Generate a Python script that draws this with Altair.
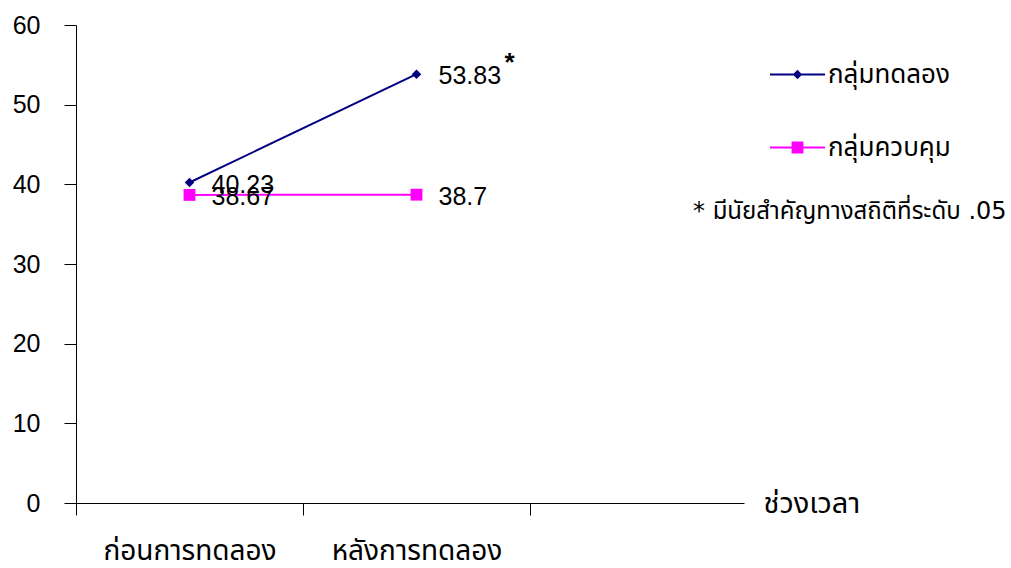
import altair as alt
import pandas as pd

# ---- data ----
periods = ["ก่อนการทดลอง", "หลังการทดลอง"]
groups = ["กลุ่มทดลอง", "กลุ่มควบคุม"]
exp_values = [40.23, 53.83]
ctrl_values = [38.67, 38.7]
exp_labels = ["40.23", "53.83"]
ctrl_labels = ["38.67", "38.7"]
exp_sig = ["", "*"]
ctrl_sig = ["", ""]
y_ticks = [0, 10, 20, 30, 40, 50, 60]
x_title = "ช่วงเวลา"
note = "* มีนัยสำคัญทางสถิติที่ระดับ .05"

colors = ["#000080", "#FF00FF"]
FONT = "'DejaVu Sans', 'Noto Sans Thai', sans-serif"
NUM_FONT = "'Liberation Sans', Arial, sans-serif"

rows = []
for i, p in enumerate(periods):
    rows.append({"period": p, "pos": i + 0.5, "group": groups[0], "value": exp_values[i],
                 "label": exp_labels[i], "sig": exp_sig[i]})
for i, p in enumerate(periods):
    rows.append({"period": p, "pos": i + 0.5, "group": groups[1], "value": ctrl_values[i],
                 "label": ctrl_labels[i], "sig": ctrl_sig[i]})
df = pd.DataFrame(rows)

W, H = 668, 478
slot = 227.0
x_scale = alt.Scale(domain=[0, W / slot], nice=False, zero=False)
y_scale = alt.Scale(domain=[0, 60], nice=False)
color_scale = alt.Scale(domain=groups, range=colors)

label_expr = "[" + ",".join("'" + p + "'" for p in periods) + ",''][datum.value]"

x_enc = alt.X("pos:Q", scale=x_scale,
              axis=alt.Axis(values=[0, 1, 2], labelExpr=label_expr, labelOffset=slot / 2,
                            tickSize=12, grid=False, labelFontSize=28, labelPadding=22,
                            labelFont=FONT, labelColor="#000", domainColor="#000", tickColor="#000",
                            title=x_title, titleFont=FONT, titleFontSize=29, titleFontWeight="normal",
                            titleAnchor="start", titleAlign="left", titleBaseline="middle",
                            titleX=W + 19, titleY=0, labelFlush=False))
y_enc = alt.Y("value:Q", scale=y_scale,
              axis=alt.Axis(values=y_ticks, tickSize=12, grid=False, labelFontSize=25,
                            labelPadding=24, labelFont=NUM_FONT, labelColor="#000",
                            domainColor="#000", tickColor="#000", title=None))

base = alt.Chart(df)

lines = base.mark_line(strokeWidth=2).encode(
    x=x_enc, y=y_enc,
    color=alt.Color("group:N", scale=color_scale, legend=None),
    detail="group:N",
)

points = base.mark_point(filled=True, opacity=1).encode(
    x=x_enc, y=y_enc,
    color=alt.Color("group:N", scale=color_scale, legend=None),
    shape=alt.Shape("group:N", scale=alt.Scale(domain=groups, range=["diamond", "square"]), legend=None),
    size=alt.Size("group:N", scale=alt.Scale(domain=groups, range=[90, 140]), legend=None),
)

legend_paths = [
    "M-1,-0.036H1V0.036H-1Z M-0.17,0L0,-0.17L0.17,0L0,0.17Z",
    "M-1,-0.036H1V0.036H-1Z M-0.215,-0.215H0.215V0.215H-0.215Z",
]
legend_spec = alt.Legend(title=None, orient="none", legendX=694, legendY=22, padding=0,
                         symbolSize=3025, symbolStrokeWidth=0, labelFont=FONT, labelFontSize=26,
                         labelColor="#000", labelOffset=3, rowPadding=32, labelLimit=300)

legend_carrier = base.mark_point(filled=True, opacity=1).transform_filter("datum.value < 0").encode(
    x=x_enc, y=y_enc,
    color=alt.Color("group:N", scale=color_scale, legend=legend_spec),
    shape=alt.Shape("group:N", scale=alt.Scale(domain=groups, range=legend_paths), legend=legend_spec),
)

labels = base.mark_text(align="left", baseline="middle", dx=22, dy=2, fontSize=25,
                        font=NUM_FONT, color="#000").encode(x=x_enc, y=y_enc, text="label:N")

sig = base.mark_text(align="center", baseline="middle", dx=93, dy=-11, fontSize=26,
                     fontWeight="bold", font=NUM_FONT, color="#000").encode(x=x_enc, y=y_enc, text="sig:N")

note_df = pd.DataFrame({"note": [note]})
note_text = alt.Chart(note_df).mark_text(align="left", baseline="middle", fontSize=24,
                                         font=FONT, color="#000").encode(
    x=alt.value(617), y=alt.value(187), text="note:N")

chart = alt.layer(lines, points, legend_carrier, labels, sig, note_text).resolve_scale(
    color="independent", shape="independent", size="independent"
).properties(
    width=W, height=H,
    autosize=alt.AutoSizeParams(type="none"),
    padding={"left": 76, "top": 25, "right": 267, "bottom": 65},
    background="white",
).configure_view(stroke=None)

chart.save("out.html", embed_options={"renderer": "svg", "actions": False})
